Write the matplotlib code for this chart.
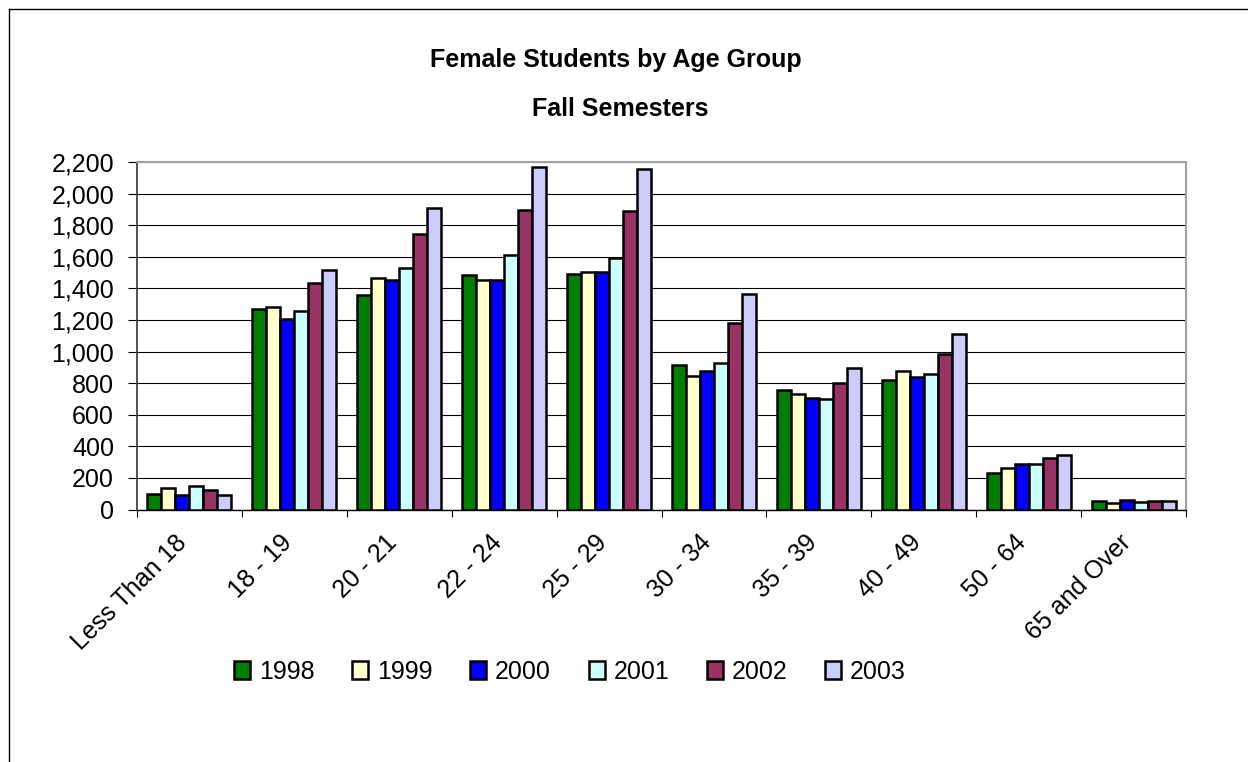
import matplotlib
matplotlib.use("Agg")
import matplotlib.pyplot as plt
import numpy as np
from matplotlib.ticker import FuncFormatter, FixedLocator
from matplotlib.transforms import ScaledTranslation
from matplotlib.lines import Line2D

plt.rcParams['font.family'] = ['Liberation Sans', 'DejaVu Sans']

categories = ["Less Than 18", "18 - 19", "20 - 21", "22 - 24", "25 - 29",
              "30 - 34", "35 - 39", "40 - 49", "50 - 64", "65 and Over"]
years = ["1998", "1999", "2000", "2001", "2002", "2003"]

v1998 = [97, 1271, 1360, 1484, 1488, 912, 758, 821, 232, 51]
v1999 = [135, 1281, 1465, 1450, 1503, 844, 733, 876, 260, 40]
v2000 = [93, 1207, 1452, 1454, 1503, 874, 705, 842, 291, 59]
v2001 = [150, 1256, 1528, 1609, 1592, 925, 701, 855, 285, 46]
v2002 = [122, 1433, 1744, 1894, 1889, 1180, 802, 984, 325, 53]
v2003 = [89, 1516, 1906, 2168, 2153, 1366, 895, 1108, 342, 53]
series = [v1998, v1999, v2000, v2001, v2002, v2003]

colors = ["#008000", "#FFFFCC", "#0000FF", "#CCFFFF", "#993366", "#CCCCFF"]

W, H = 1248, 762
fig = plt.figure(figsize=(W / 100, H / 100), dpi=100)
fig.patch.set_facecolor("white")

left, right, top, bottom = 137, 1186, 162, 509.5
ax = fig.add_axes([left / W, 1 - bottom / H, (right - left) / W, (bottom - top) / H])

x = np.arange(len(categories))
bw = 0.8 / len(series)
for i, (vals, c, yr) in enumerate(zip(series, colors, years)):
    offs = (i - (len(series) - 1) / 2) * bw
    ax.bar(x + offs, vals, width=bw, color=c, edgecolor="black",
           linewidth=1.8, label=yr, zorder=3)

ax.set_xlim(-0.5, len(categories) - 0.5)
ax.set_ylim(0, 2200)
ax.set_yticks(np.arange(0, 2201, 200))
ax.yaxis.set_major_formatter(FuncFormatter(lambda v, p: f"{int(v):,}"))
ax.grid(axis="y", color="black", linewidth=0.8, zorder=0)
ax.set_axisbelow(True)

ax.tick_params(axis="y", direction="out", length=6.5, width=0.8,
               labelsize=18, pad=10, colors="black")

ax.set_xticks(x)
ax.set_xticklabels(categories)
ax.xaxis.set_minor_locator(FixedLocator(np.arange(-0.5, len(categories), 1.0)))
ax.tick_params(axis="x", which="major", length=0, pad=21, labelsize=18)
ax.tick_params(axis="x", which="minor", direction="out", length=5, width=0.8)
offset = ScaledTranslation(-6 / 100, 0, fig.dpi_scale_trans)
for lab in ax.get_xticklabels():
    lab.set_rotation(45)
    lab.set_ha("right")
    lab.set_va("center")
    lab.set_rotation_mode("anchor")
    lab.set_transform(lab.get_transform() + offset)

ax.spines["top"].set_color("#a0a0a0")
ax.spines["top"].set_linewidth(1.5)
ax.spines["right"].set_color("#a0a0a0")
ax.spines["right"].set_linewidth(1.5)
ax.spines["left"].set_color("#333333")
ax.spines["left"].set_linewidth(1.2)
ax.spines["bottom"].set_color("black")
ax.spines["bottom"].set_linewidth(1.0)

fig.text(616 / W, 1 - 60 / H, "Female Students by Age Group", ha="center",
         va="center", fontsize=18, fontweight="bold")
fig.text(620 / W, 1 - 108.5 / H, "Fall Semesters", ha="center",
         va="center", fontsize=18, fontweight="bold")

fig.legend(loc="center", bbox_to_anchor=(570 / W, 1 - 672 / H), ncol=6,
           frameon=False, fontsize=18, handlelength=0.64, handleheight=0.75,
           handletextpad=0.36, columnspacing=1.5, borderaxespad=0)

# outer chart frame (top and left edges visible)
fig.add_artist(Line2D([9 / W, 1.0], [1 - 9 / H, 1 - 9 / H], transform=fig.transFigure,
                      color="black", linewidth=1.0))
fig.add_artist(Line2D([9 / W, 9 / W], [0.0, 1 - 9 / H], transform=fig.transFigure,
                      color="black", linewidth=1.0))

fig.savefig("out.png", dpi=100, facecolor="white")
